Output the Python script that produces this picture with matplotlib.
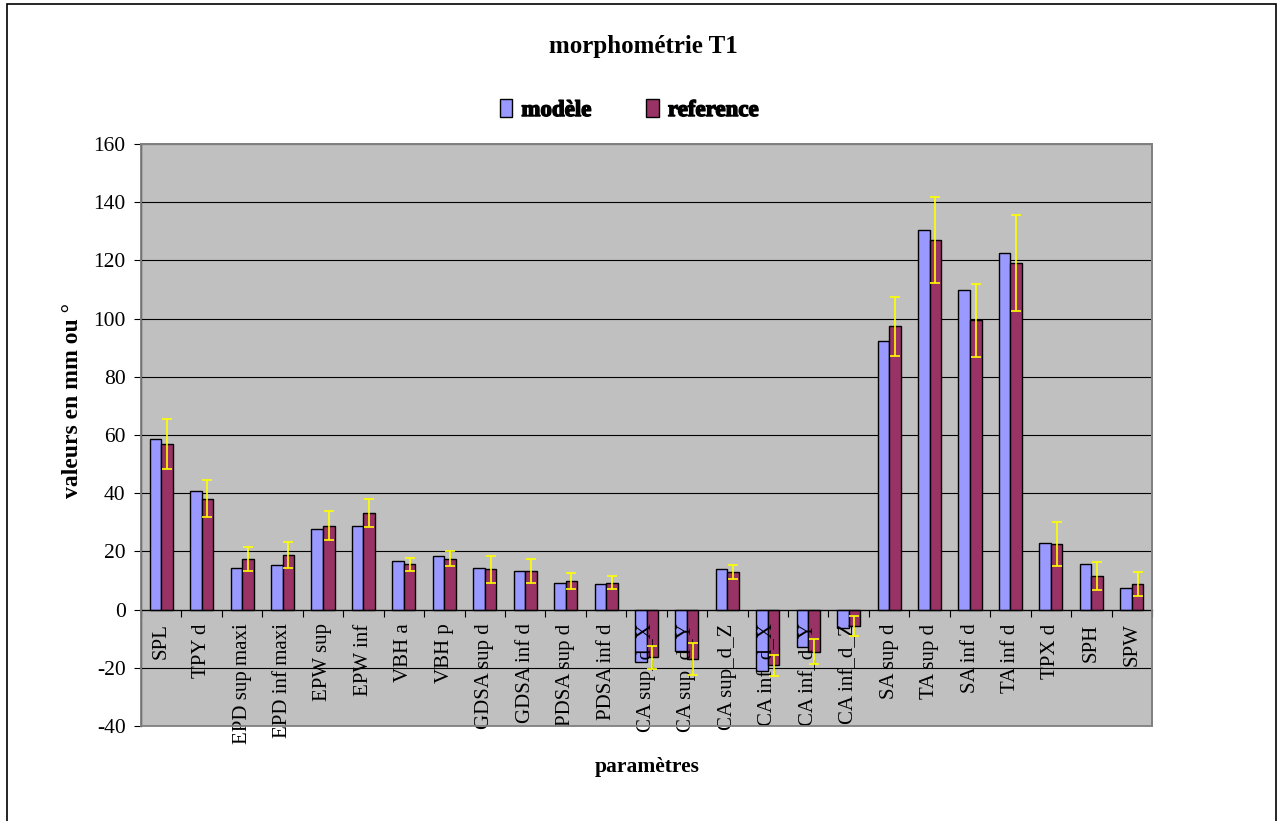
import matplotlib
matplotlib.use('Agg')
import matplotlib.pyplot as plt
import matplotlib.patheffects as pe
from matplotlib.patches import Rectangle
import numpy as np

plt.rcParams['font.family'] = ['Liberation Serif', 'DejaVu Serif']
plt.rcParams['axes.unicode_minus'] = False

# donnees
parametres = ['SPL', 'TPY d', 'EPD sup maxi', 'EPD inf maxi', 'EPW sup', 'EPW inf',
              'VBH a', 'VBH p', 'GDSA sup d', 'GDSA inf d', 'PDSA sup d', 'PDSA inf d',
              'CA sup_d_X', 'CA sup_d_Y', 'CA sup_d_Z', 'CA inf_d_X', 'CA inf_d_Y', 'CA inf_d_Z',
              'SA sup d', 'TA sup d', 'SA inf d', 'TA inf d', 'TPX d', 'SPH', 'SPW']
modele = [58.5, 40.8, 14.2, 15.2, 27.6, 28.9, 16.6, 18.3, 14.2, 13.3, 9.2, 8.7,
          -17.9, -14.3, 13.8, -21.2, -12.9, -6.4, 92.4, 130.3, 109.8, 122.6, 23.0, 15.5, 7.3]
reference = [57.0, 38.1, 17.5, 18.8, 28.9, 33.1, 15.5, 17.5, 13.8, 13.3, 9.8, 9.2,
             -16.4, -17.0, 12.9, -19.2, -14.4, -5.6, 97.4, 127.0, 99.4, 119.1, 22.5, 11.6, 8.8]
ecart = [8.65, 6.4, 4.15, 4.55, 5.1, 4.8, 2.3, 2.5, 4.6, 4.15, 2.75, 2.25,
         4.0, 5.5, 2.55, 3.55, 4.2, 3.55, 10.15, 14.75, 12.65, 16.6, 7.65, 4.75, 4.15]
graduations = np.arange(-40, 161, 20)

x = np.arange(len(parametres))
width = 1 / 3.5

fig = plt.figure(figsize=(12.78, 8.21), dpi=100)
ax = fig.add_axes([141 / 1278, 95 / 821, 1011 / 1278, 582 / 821])
ax.set_facecolor('#C0C0C0')

# quadrillage sous les barres
for g in graduations:
    ax.axhline(g, color='black', linewidth=0.8, zorder=1)

ax.bar(x - width / 2, modele, width, color='#9999FF', edgecolor='black', linewidth=1.0,
       label='modèle', zorder=2)
ax.bar(x + width / 2, reference, width, color='#993366', edgecolor='black', linewidth=1.0,
       label='reference', zorder=2)

ax.set_xlim(-0.5, len(parametres) - 0.5)
ax.set_ylim(-40, 160)
ax.set_yticks(graduations)
ax.tick_params(axis='y', direction='out', length=5, width=0.8, pad=6, labelsize=15.5)

# axe des categories sur y = 0, etiquettes par-dessus les barres
ax.spines['bottom'].set_position(('data', 0))
ax.spines['bottom'].set_linewidth(0.9)
ax.spines['left'].set_linewidth(0.9)
for s in ['top', 'right']:
    ax.spines[s].set_color('#808080')
    ax.spines[s].set_linewidth(1.3)
ax.add_patch(Rectangle((0, 0), 1, 1, transform=ax.transAxes, fill=False,
                       edgecolor='#808080', linewidth=1.3, zorder=5, clip_on=False))

ax.set_xticks(x)
ax.set_xticklabels(parametres, rotation=90, va='top', ha='center', fontsize=15)
ax.set_xticks(np.arange(-0.5, len(parametres), 1), minor=True)
ax.tick_params(axis='x', which='major', length=0, pad=10)
ax.tick_params(axis='x', which='minor', direction='out', length=5, width=0.8)
ax.xaxis.set_zorder(3)
ax.spines['bottom'].set_zorder(3)

ax.errorbar(x + width / 2, reference, yerr=ecart, fmt='none', ecolor='#FFFF00',
            elinewidth=1.2, capsize=3.6, capthick=1.2, zorder=4)

fig.text(643 / 1278, 1 - 47 / 821, 'morphométrie T1', ha='center', va='center',
         fontsize=18, fontweight='bold')
fig.text(72 / 1278, 1 - 401 / 821, 'valeurs en mm ou °', ha='center', va='center',
         rotation=90, fontsize=17, fontweight='bold')
fig.text(647 / 1278, 1 - 767 / 821, 'paramètres', ha='center', va='center',
         fontsize=15.5, fontweight='bold')

leg = fig.legend(loc='center', bbox_to_anchor=(629 / 1278, 1 - 110 / 821), ncol=2,
                 frameon=False, prop={'weight': 'bold', 'size': 16.5}, handlelength=0.55,
                 handleheight=0.85, handletextpad=0.4, columnspacing=2.4)
for t in leg.get_texts():
    t.set_path_effects([pe.withStroke(linewidth=1.0, foreground='black')])

# cadre exterieur
fig.patches.append(Rectangle((7 / 1278, -0.01), 1269 / 1278, 1.01 - 4 / 821,
                             transform=fig.transFigure, fill=False, edgecolor='black',
                             linewidth=1.2))

fig.savefig('out.png', dpi=100)
